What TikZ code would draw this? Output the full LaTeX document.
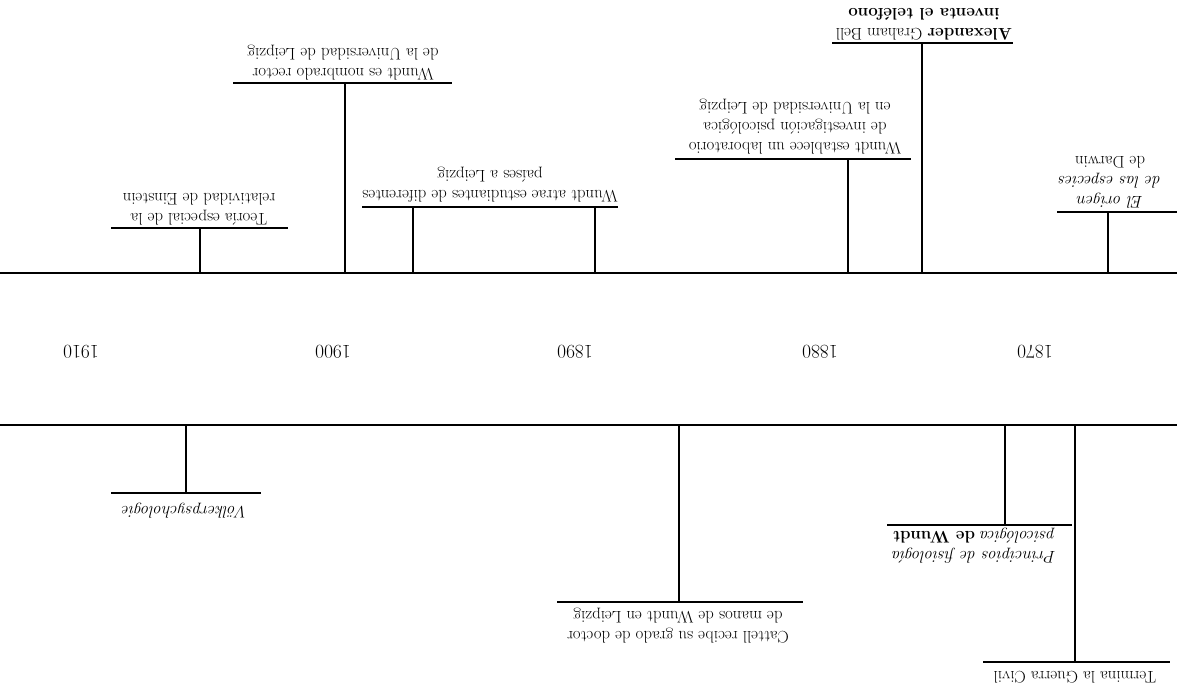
\documentclass[tikz,border=0pt]{standalone}
\begin{document}
\begin{tikzpicture}[x=1pt,y=-1pt,
  axisline/.style={line width=2.8pt},
  stem/.style={line width=1.5pt},
  shelf/.style={line width=1.9pt},
  lbl/.style={rotate=180, align=center, inner sep=0pt, font=\fontsize{16.8}{20}\selectfont},
  yr/.style={rotate=180, inner sep=0pt, font=\fontsize{19.5}{21}\selectfont}]
\useasboundingbox (0,0) rectangle (1177,698);
% axes
\coordinate (ta0) at (0,273); \coordinate (ta1) at (1177,273);
\coordinate (ba0) at (0,425); \coordinate (ba1) at (1177,425);
\draw[axisline] (ta0) -- (ta1);
\draw[axisline] (ba0) -- (ba1);
% years
\node[yr] (y1910) at (81,352) {1910};
\node[yr] (y1900) at (333,352) {1900};
\node[yr] (y1890) at (575,352) {1890};
\node[yr] (y1880) at (820,352) {1880};
\node[yr] (y1870) at (1035,352) {1870};
% ---- top events ----
% Einstein
\draw[shelf] (111,228) -- (288,228);
\coordinate (e1a) at (200,273); \coordinate (e1b) at (200,228);
\draw[stem] (e1a) -- (e1b);
\node[lbl, anchor=north] (e1) at (199,225) {Teoría especial de la\\relatividad de Einstein};
% Rector
\draw[shelf] (233,83) -- (452,83);
\coordinate (e2a) at (345,273); \coordinate (e2b) at (345,83);
\draw[stem] (e2a) -- (e2b);
\node[lbl, anchor=north] (e2) at (343,80) {Wundt es nombrado rector\\de la Universidad de Leipzig};
% Atrae
\draw[shelf] (362,207) -- (618,207);
\coordinate (e3a) at (413,273); \coordinate (e3b) at (413,207);
\coordinate (e3c) at (595,273); \coordinate (e3d) at (595,207);
\draw[stem] (e3a) -- (e3b);
\draw[stem] (e3c) -- (e3d);
\node[lbl, anchor=north] (e3) at (490,202) {Wundt atrae estudiantes de diferentes\\países a Leipzig};
% Laboratorio
\draw[shelf] (675,159) -- (911,159);
\coordinate (e4a) at (848,273); \coordinate (e4b) at (848,159);
\draw[stem] (e4a) -- (e4b);
\node[lbl, anchor=north] (e4) at (795,154) {Wundt establece un laboratorio\\de investigación psicológica\\en la Universidad de Leipzig};
% Bell
\draw[shelf] (832,43) -- (1013,43);
\coordinate (e5a) at (922,273); \coordinate (e5b) at (922,43);
\draw[stem] (e5a) -- (e5b);
\node[lbl, anchor=north] (e5) at (924,40) {\textbf{Alexander} Graham Bell\\\textbf{inventa el teléfono}};
% Darwin
\draw[shelf] (1057,212) -- (1177,212);
\coordinate (e6a) at (1108,273); \coordinate (e6b) at (1108,212);
\draw[stem] (e6a) -- (e6b);
\node[lbl, anchor=north] (e6) at (1110,208) {\textit{El origen}\\\textit{de las especies}\\de Darwin};
% ---- bottom events ----
% Volkerpsychologie
\draw[shelf] (111,493) -- (261,493);
\coordinate (b1a) at (186,425); \coordinate (b1b) at (186,493);
\draw[stem] (b1a) -- (b1b);
\node[lbl, anchor=south] (b1) at (185,503) {\textit{Völkerpsychologie}};
% Cattell
\draw[shelf] (557,602) -- (803,602);
\coordinate (b2a) at (679,425); \coordinate (b2b) at (679,602);
\draw[stem] (b2a) -- (b2b);
\node[lbl, anchor=south] (b2) at (678,608) {Cattell recibe su grado de doctor\\de manos de Wundt en Leipzig};
% Principios
\draw[shelf] (887,525) -- (1072,525);
\coordinate (b3a) at (1005,425); \coordinate (b3b) at (1005,525);
\draw[stem] (b3a) -- (b3b);
\node[lbl, anchor=south] (b3) at (974,528) {\textit{Principios de fisiología}\\\textit{psicológica} \textbf{de Wundt}};
% Guerra Civil
\draw[shelf] (983,662) -- (1170,662);
\coordinate (b4a) at (1075,425); \coordinate (b4b) at (1075,662);
\draw[stem] (b4a) -- (b4b);
\node[lbl, anchor=south] (b4) at (1075,671) {Termina la Guerra Civil};
\end{tikzpicture}
\end{document}
